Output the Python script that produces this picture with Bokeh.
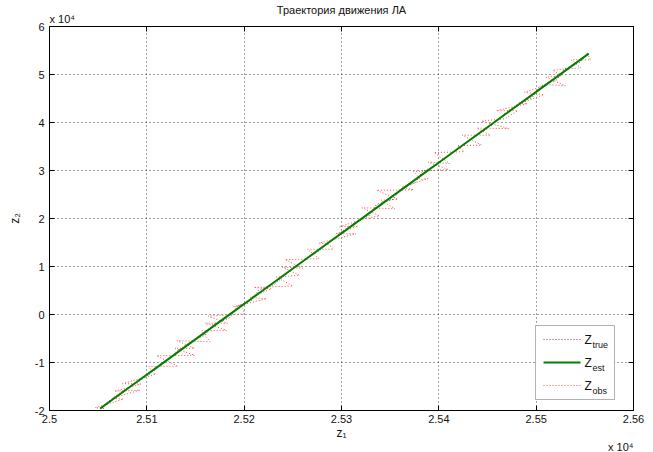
from bokeh.plotting import figure
from bokeh.models import Range1d, FixedTicker, LinearAxis, BoxAnnotation, Label, Title
from bokeh.embed import file_html
from bokeh.resources import INLINE

# ---------------- data ----------------
z1_true = [25052, 25059, 25075, 25084, 25101, 25109, 25124, 25131, 25147, 25160, 25168,
           25185, 25193, 25208, 25215, 25231, 25244, 25252, 25269, 25277, 25292, 25299,
           25315, 25328, 25336, 25353, 25361, 25376, 25383, 25399, 25412, 25420, 25437,
           25445, 25460, 25467, 25483, 25496, 25504, 25521, 25529, 25544, 25554]
z2_true = [-19595, -18327, -15959, -14942, -12674, -11457, -9039, -7671, -5404, -4286, -2019,
           -701, 1717, 2984, 5152, 6269, 8537, 9955, 12272, 13290, 15707, 17075,
           19293, 20510, 22928, 23995, 26213, 27481, 29798, 31266, 33483, 34651, 36969,
           38036, 40354, 41771, 44139, 45207, 47524, 48892, 51159, 52377, 54445]

z1_est = [25052, 25062, 25074, 25086, 25098, 25110, 25122, 25134, 25146, 25158, 25170,
          25182, 25194, 25206, 25218, 25230, 25242, 25254, 25266, 25278, 25290, 25302,
          25314, 25326, 25338, 25350, 25362, 25374, 25386, 25398, 25410, 25422, 25434,
          25446, 25458, 25470, 25482, 25494, 25506, 25518, 25530, 25542, 25554]
z2_est = [-19600, -18127, -16359, -14592, -12824, -11057, -9289, -7521, -5754, -3986, -2219,
          -451, 1317, 3084, 4852, 6619, 8387, 10155, 11922, 13690, 15457, 17225,
          18993, 20760, 22528, 24295, 26063, 27831, 29598, 31366, 33133, 34901, 36669,
          38436, 40204, 41971, 43739, 45507, 47274, 49042, 50809, 52577, 54345]

z1_obs = [25056, 25047, 25076, 25064, 25093, 25067, 25094, 25075, 25109, 25107,
          25102, 25132, 25110, 25149, 25129, 25149, 25131, 25165, 25156, 25182,
          25160, 25183, 25163, 25200, 25198, 25189, 25223, 25206, 25228, 25210,
          25250, 25233, 25257, 25239, 25260, 25242, 25277, 25265, 25292, 25286,
          25277, 25315, 25294, 25317, 25298, 25325, 25339, 25321, 25355, 25340,
          25358, 25336, 25374, 25362, 25389, 25381, 25374, 25410, 25389, 25411,
          25395, 25426, 25419, 25444, 25424, 25453, 25439, 25472, 25444, 25468,
          25481, 25459, 25491, 25483, 25508, 25488, 25512, 25530, 25510, 25527,
          25517, 25546, 25536, 25556, 25552]
z2_obs = [-19595, -19411, -17627, -17444, -15760, -15976, -14492, -14409, -12425, -12241,
          -10857, -10773, -8589, -8506, -7022, -7038, -5454, -5670, -3387, -3303,
          -1819, -1835, -351, 132, 2016, 1600, 3284, 3568, 5351, 5635,
          5919, 7803, 8187, 9870, 9654, 11438, 11622, 13606, 13589, 14773,
          14857, 16841, 16825, 18408, 18292, 19976, 20560, 22244, 22027, 23811,
          23995, 25879, 25963, 26546, 28330, 28114, 29798, 30182, 31765, 31449,
          33733, 33917, 35201, 35284, 37368, 37352, 38836, 38720, 40303, 40787,
          42471, 42455, 43939, 43922, 45806, 46290, 47874, 47658, 49441, 49725,
          50909, 51393, 53077, 53060, 54544]

x_ticks = [25000, 25100, 25200, 25300, 25400, 25500, 25600]
x_tick_labels = ["2.5", "2.51", "2.52", "2.53", "2.54", "2.55", "2.56"]
y_ticks = [-20000, -10000, 0, 10000, 20000, 30000, 40000, 50000, 60000]
y_tick_labels = ["-2", "-1", "0", "1", "2", "3", "4", "5", "6"]

title_text = "Траектория движения ЛА"
exponent_text = "x 10⁴"
legend_labels = ["Z", "Z", "Z"]
legend_subs = ["true", "est", "obs"]

# ---------------- styling ----------------
FONT = "Liberation Sans"
TXT = "#111111"
C_TRUE = "#b0306a"
C_EST = "#008000"
C_OBS = "#ff4a4a"

X0, X1 = 25000, 25600
Y0, Y1 = -20000, 60000
FRAME_L, FRAME_T, FRAME_W, FRAME_H = 49, 26, 584, 384  # page pixels


def X(px):
    return X0 + (px - FRAME_L) * (X1 - X0) / FRAME_W


def Y(py):
    return Y1 - (py - FRAME_T) * (Y1 - Y0) / FRAME_H


p = figure(width=653, height=452, output_backend="svg", toolbar_location=None,
           x_range=Range1d(X0, X1), y_range=Range1d(Y0, Y1),
           min_border_left=49, min_border_right=20, min_border_top=26, min_border_bottom=42)
p.title = None
p.background_fill_color = "white"
p.border_fill_color = "white"
p.outline_line_color = "black"

for ax, ticks, labels in ((p.xaxis[0], x_ticks, x_tick_labels), (p.yaxis[0], y_ticks, y_tick_labels)):
    ax.ticker = FixedTicker(ticks=ticks)
    ax.major_label_overrides = dict(zip(ticks, labels))
    ax.major_tick_in = 5
    ax.major_tick_out = 0
    ax.minor_tick_line_color = None
    ax.axis_line_color = "black"
    ax.major_tick_line_color = "black"
    ax.major_label_text_font = FONT
    ax.major_label_text_font_size = "11px"
    ax.major_label_text_color = TXT
    ax.axis_label_text_font = FONT
    ax.axis_label_text_font_size = "12px"
    ax.axis_label_text_font_style = "normal"
    ax.axis_label_text_color = TXT

p.xaxis.axis_label = "z₁"
p.yaxis.axis_label = "z₂"
p.xaxis.major_label_standoff = 4
p.xaxis.axis_label_standoff = 0
p.yaxis.major_label_standoff = 5
p.yaxis.axis_label_standoff = 10

for loc, ticks in (("above", x_ticks), ("right", y_ticks)):
    ax = LinearAxis(ticker=FixedTicker(ticks=ticks), major_tick_in=5, major_tick_out=0,
                    minor_tick_line_color=None, axis_line_color="black",
                    major_label_text_font_size="0px", major_label_standoff=0,
                    major_label_overrides={t: "" for t in ticks})
    p.add_layout(ax, loc)

# exponent multipliers and title
p.add_layout(Title(text=exponent_text, align="left", text_font=FONT, text_font_size="11px",
                   text_font_style="normal", text_color=TXT, standoff=4), "above")
p.add_layout(Title(text=title_text, align="center", text_font=FONT, text_font_size="11px",
                   text_font_style="normal", text_color=TXT, standoff=-15), "above")
p.add_layout(Title(text=exponent_text, align="right", text_font=FONT, text_font_size="11px",
                   text_font_style="normal", text_color=TXT, standoff=-20), "below")

p.xgrid.ticker = FixedTicker(ticks=x_ticks)
p.ygrid.ticker = FixedTicker(ticks=y_ticks)
for g in (p.xgrid[0], p.ygrid[0]):
    g.grid_line_color = "black"
    g.grid_line_alpha = 0.75
    g.grid_line_dash = "1 3"

p.line(z1_true, z2_true, line_color=C_TRUE, line_width=1, line_dash="1 2")
p.line(z1_obs, z2_obs, line_color=C_OBS, line_width=1, line_dash="1 2")
p.line(z1_est, z2_est, line_color=C_EST, line_width=2)

# legend
p.add_layout(BoxAnnotation(left=X(535), right=X(614), top=Y(325), bottom=Y(399),
                           fill_color="white", fill_alpha=1.0, line_color="black",
                           line_width=1, level="annotation"))
rows = [339, 362, 385]
styles = [(C_TRUE, 1, "1 2"), (C_EST, 2, "solid"), (C_OBS, 1, "1 2")]
for row, (c, w, d), lab, sub in zip(rows, styles, legend_labels, legend_subs):
    r = p.segment(x0=[X(543)], y0=[Y(row)], x1=[X(580)], y1=[Y(row)],
                  line_color=c, line_width=w, line_dash=d)
    r.level = "overlay"
    p.add_layout(Label(x=X(584), y=Y(row), text=lab, text_font=FONT, text_font_size="12px",
                       text_baseline="middle", text_color=TXT, level="overlay"))
    p.add_layout(Label(x=X(592), y=Y(row + 5), text=sub, text_font=FONT, text_font_size="9px",
                       text_baseline="middle", text_color=TXT, level="overlay"))

open("out.html", "w").write(file_html(p, INLINE))
